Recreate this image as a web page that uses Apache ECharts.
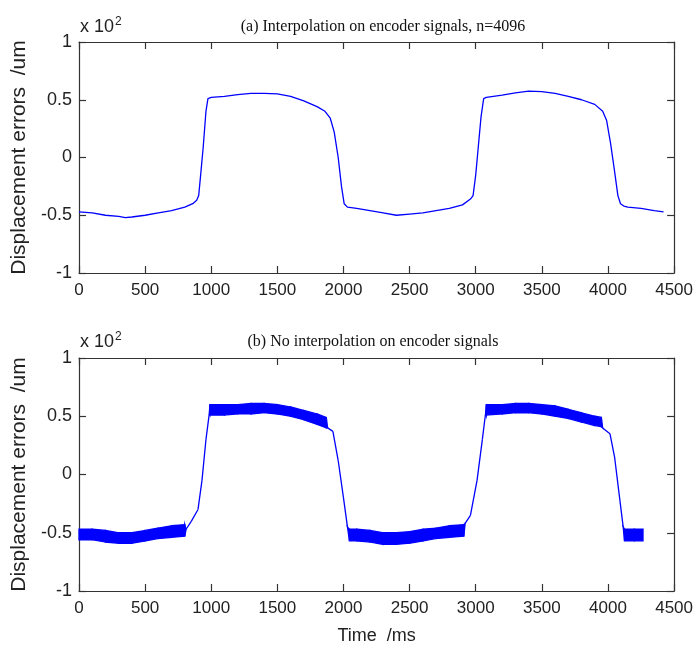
<!DOCTYPE html>
<html>
<head>
<meta charset="utf-8">
<script src="https://cdn.jsdelivr.net/npm/echarts@6/dist/echarts.min.js"></script>
<style>
  html, body { margin: 0; padding: 0; background: #fff; }
  #chartBox { width: 696px; height: 649px; }
</style>
</head>
<body>
<div id="chartBox"></div>
<script>
// (a) interpolated signal, values in units of 10^2 um
const timeA = [0, 100, 200, 300, 350, 400, 500, 600, 700, 800, 860, 890, 905, 920, 940, 960, 975, 1000,
  1100, 1200, 1300, 1400, 1500, 1600, 1700, 1800, 1860, 1900, 1930, 1960, 1985, 2005, 2030,
  2100, 2200, 2300, 2400, 2500, 2600, 2700, 2800, 2900, 2960, 2980, 3000, 3020, 3040, 3060, 3080,
  3200, 3300, 3400, 3500, 3600, 3700, 3800, 3900, 3960, 3990, 4020, 4050, 4075, 4095, 4120,
  4150, 4250, 4350, 4420]
const errA = [-0.47, -0.48, -0.50, -0.51, -0.52, -0.515, -0.50, -0.48, -0.46, -0.43, -0.40, -0.37, -0.33, -0.15, 0.10, 0.40, 0.51, 0.52,
  0.53, 0.545, 0.555, 0.555, 0.55, 0.53, 0.49, 0.44, 0.40, 0.34, 0.22, 0.0, -0.25, -0.40, -0.43,
  -0.44, -0.46, -0.48, -0.50, -0.49, -0.48, -0.46, -0.44, -0.41, -0.36, -0.33, -0.15, 0.10, 0.35, 0.51, 0.52,
  0.54, 0.56, 0.575, 0.57, 0.555, 0.53, 0.50, 0.46, 0.40, 0.32, 0.12, -0.12, -0.33, -0.40, -0.42,
  -0.43, -0.44, -0.46, -0.47]

// (b) raw signal: lower / upper edge of the noise band
const timeB = [0, 100, 200, 300, 400, 500, 600, 700, 800, 810, 850, 900, 930, 960, 985, 990,
  1100, 1200, 1300, 1400, 1500, 1600, 1700, 1800, 1870, 1880, 1920, 1960, 2000, 2030, 2045,
  2100, 2200, 2300, 2400, 2500, 2600, 2700, 2800, 2910, 2920, 2960, 3010, 3050, 3075, 3080,
  3200, 3300, 3400, 3500, 3600, 3700, 3800, 3900, 3950, 3960, 4015, 4050, 4090, 4115, 4125,
  4200, 4265]
const lowB = [-0.56, -0.56, -0.58, -0.59, -0.59, -0.57, -0.55, -0.54, -0.53, -0.47, -0.40, -0.30, -0.05, 0.30, 0.52, 0.51,
  0.51, 0.52, 0.52, 0.53, 0.52, 0.50, 0.47, 0.43, 0.40, 0.40, 0.37, 0.12, -0.20, -0.45, -0.57,
  -0.57, -0.58, -0.60, -0.60, -0.59, -0.57, -0.55, -0.54, -0.53, -0.42, -0.35, -0.05, 0.30, 0.53, 0.51,
  0.52, 0.53, 0.53, 0.52, 0.50, 0.48, 0.45, 0.42, 0.41, 0.40, 0.35, 0.15, -0.22, -0.45, -0.57,
  -0.57, -0.57]
const highB = [-0.47, -0.47, -0.48, -0.50, -0.50, -0.48, -0.46, -0.44, -0.43, -0.47, -0.40, -0.30, -0.05, 0.30, 0.52, 0.60,
  0.60, 0.60, 0.61, 0.61, 0.60, 0.58, 0.55, 0.52, 0.49, 0.40, 0.37, 0.12, -0.20, -0.45, -0.47,
  -0.47, -0.48, -0.50, -0.50, -0.49, -0.47, -0.46, -0.44, -0.43, -0.42, -0.35, -0.05, 0.30, 0.53, 0.60,
  0.60, 0.61, 0.61, 0.60, 0.59, 0.56, 0.53, 0.50, 0.49, 0.40, 0.35, 0.15, -0.22, -0.45, -0.47,
  -0.47, -0.47]

const xTicks = { min: 0, max: 4500, interval: 500 }
const yTicks = { min: -1, max: 1, interval: 0.5 }

const blue = '#0000ff'
const axisGray = '#333'
const sans = 'Liberation Sans, Arial, sans-serif'
const serif = 'Liberation Serif, Times New Roman, serif'

const chart = echarts.init(document.getElementById('chartBox'))

function xAxisFor(grid, pos, showLabel) {
  return {
    type: 'value', gridIndex: grid, position: pos,
    min: xTicks.min, max: xTicks.max, interval: xTicks.interval,
    splitLine: { show: false },
    axisLine: { show: true, onZero: false, lineStyle: { color: axisGray, width: 1.2 } },
    axisTick: { show: true, inside: true, length: 7, lineStyle: { color: axisGray, width: 1.2 } },
    axisLabel: { show: showLabel, color: '#222', fontFamily: sans, fontSize: 17, margin: 9,
      formatter: v => String(v) },
    name: grid === 1 && showLabel ? 'Time  /ms' : '',
    nameLocation: 'middle', nameGap: 36,
    nameTextStyle: { color: '#222', fontFamily: sans, fontSize: 18 }
  }
}

function yAxisFor(grid, pos, showLabel) {
  return {
    type: 'value', gridIndex: grid, position: pos,
    min: yTicks.min, max: yTicks.max, interval: yTicks.interval,
    splitLine: { show: false },
    axisLine: { show: true, onZero: false, lineStyle: { color: axisGray, width: 1.2 } },
    axisTick: { show: true, inside: true, length: 7, lineStyle: { color: axisGray, width: 1.2 } },
    axisLabel: { show: showLabel, color: '#222', fontFamily: sans, fontSize: 18, margin: 7 },
    name: showLabel ? 'Displacement errors  /um' : '',
    nameLocation: 'middle', nameGap: 47,
    nameTextStyle: { color: '#222', fontFamily: sans, fontSize: 21 }
  }
}

// noise band of plot (b): one quad per segment, placed through the axis scales
function renderBand(params, api) {
  const i = params.dataIndex
  if (i >= timeB.length - 1) return null
  const pts = [
    api.coord([timeB[i], highB[i]]),
    api.coord([timeB[i + 1], highB[i + 1]]),
    api.coord([timeB[i + 1], lowB[i + 1]]),
    api.coord([timeB[i], lowB[i]])
  ]
  return {
    type: 'polygon',
    shape: { points: pts },
    style: { fill: blue, stroke: blue, lineWidth: 1.3 }
  }
}

const options = {
  animation: false,
  backgroundColor: '#fff',
  title: [
    { text: '(a) Interpolation on encoder signals, n=4096', left: 378, top: 14, textAlign: 'center',
      textStyle: { fontFamily: serif, fontSize: 16, fontWeight: 'normal', color: '#111' } },
    { text: '(b) No interpolation on encoder signals', left: 368, top: 329, textAlign: 'center',
      textStyle: { fontFamily: serif, fontSize: 16, fontWeight: 'normal', color: '#111' } }
  ],
  graphic: [
    { type: 'text', left: 80, top: 16,
      style: { text: 'x 10{s|2}', rich: { s: { fontSize: 12, fontFamily: sans, verticalAlign: 'top', padding: [0, 0, 10, 1] } },
        font: '18px ' + sans, fill: '#222' } },
    { type: 'text', left: 80, top: 331,
      style: { text: 'x 10{s|2}', rich: { s: { fontSize: 12, fontFamily: sans, verticalAlign: 'top', padding: [0, 0, 10, 1] } },
        font: '18px ' + sans, fill: '#222' } }
  ],
  grid: [
    { left: 79, width: 597, top: 42, height: 231 },
    { left: 79, width: 597, top: 358, height: 233 }
  ],
  xAxis: [xAxisFor(0, 'bottom', true), xAxisFor(0, 'top', false), xAxisFor(1, 'bottom', true), xAxisFor(1, 'top', false)],
  yAxis: [yAxisFor(0, 'left', true), yAxisFor(0, 'right', false), yAxisFor(1, 'left', true), yAxisFor(1, 'right', false)],
  series: [
    {
      type: 'line', xAxisIndex: 0, yAxisIndex: 0, showSymbol: false,
      data: timeA.map((t, i) => [t, errA[i]]),
      lineStyle: { color: blue, width: 1.3 }
    },
    {
      type: 'custom', xAxisIndex: 2, yAxisIndex: 2,
      renderItem: renderBand,
      data: timeB.map((t, i) => [t, lowB[i], highB[i]]),
      encode: { x: 0, y: [1, 2] }
    }
  ]
}

chart.setOption(options)
</script>
</body>
</html>
